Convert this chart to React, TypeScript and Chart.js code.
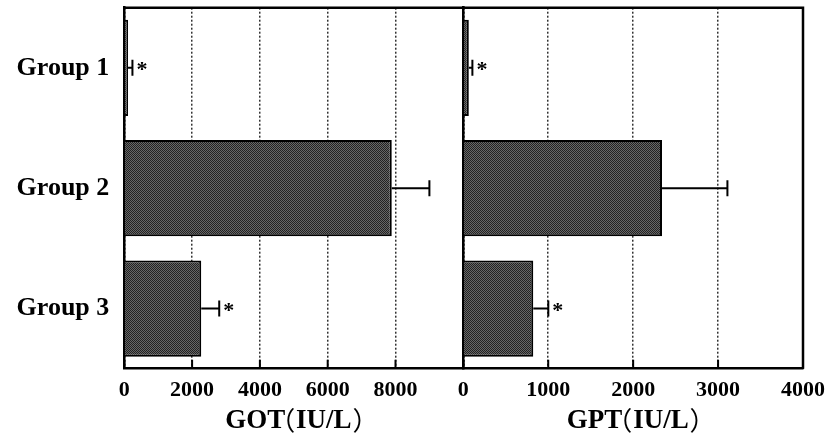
import React, { useEffect, useRef } from 'react';
import { Chart, registerables } from 'chart.js';

Chart.register(...registerables);

const categories = ['Group 1', 'Group 2', 'Group 3'];

const gotValues = [110, 7890, 2270];
const gotErrors = [130, 1110, 530];
const gotStars = [true, false, true];
const gotTickValues = [0, 2000, 4000, 6000, 8000, 10000];
const gotHiddenTicks = [10000];
const gotTitle = 'GOT（IU/L）';

const gptValues = [65, 2340, 824];
const gptErrors = [42, 770, 177];
const gptStars = [true, false, true];
const gptTickValues = [0, 1000, 2000, 3000, 4000];
const gptHiddenTicks: number[] = [];
const gptTitle = 'GPT（IU/L）';

const SERIF = "'Liberation Serif', 'Times New Roman', serif";
const CJK = "'Noto Sans CJK SC', 'Noto Sans CJK JP', sans-serif";

function makePattern(): CanvasPattern | string {
  const c = document.createElement('canvas');
  c.width = 2;
  c.height = 2;
  const g = c.getContext('2d');
  if (!g) return '#444';
  g.fillStyle = '#676767';
  g.fillRect(0, 0, 2, 2);
  g.fillStyle = '#222222';
  g.fillRect(0, 0, 1, 1);
  g.fillRect(1, 1, 1, 1);
  return g.createPattern(c, 'repeat') || '#444';
}

function drawTightText(ctx: CanvasRenderingContext2D, text: string, cx: number, y: number, size: number) {
  const latinFont = `bold ${size}px ${SERIF}`;
  const parenFont = `normal ${Math.round(size * 0.95)}px ${CJK}`;
  const chars = Array.from(text);
  const gap = size * 0.07;
  const parts: { ch: string; dx: number; w: number; font: string }[] = [];
  let total = 0;
  let run = '';
  const flush = () => {
    if (run) {
      ctx.font = latinFont;
      const w = ctx.measureText(run).width;
      parts.push({ ch: run, dx: 0, w, font: latinFont });
      total += w;
      run = '';
    }
  };
  for (const ch of chars) {
    if (ch === '（' || ch === '）') {
      flush();
      ctx.font = parenFont;
      const m = ctx.measureText(ch);
      const ink = m.actualBoundingBoxLeft + m.actualBoundingBoxRight;
      parts.push({ ch, dx: gap + m.actualBoundingBoxLeft, w: ink + 2 * gap, font: parenFont });
      total += ink + 2 * gap;
    } else {
      run += ch;
    }
  }
  flush();
  let x = cx - total / 2;
  ctx.textAlign = 'left';
  ctx.textBaseline = 'alphabetic';
  for (const p of parts) {
    ctx.font = p.font;
    ctx.fillText(p.ch, x + p.dx, p.font === parenFont ? y + size * 0.08 : y);
    x += p.w;
  }
}

const framePlugin = {
  id: 'frame',
  afterDraw(chart: any, _args: any, opts: any) {
    const { ctx, chartArea: a } = chart;
    const xs = chart.scales.x;
    ctx.save();
    ctx.strokeStyle = '#000';
    ctx.lineWidth = 2.5;
    ctx.beginPath();
    ctx.moveTo(a.left - 1.25, a.top);
    ctx.lineTo(a.right + 1.25, a.top);
    if (opts.right) {
      ctx.moveTo(a.right, a.top);
      ctx.lineTo(a.right, a.bottom);
    }
    ctx.stroke();
    // inward tick marks
    ctx.lineWidth = 2;
    ctx.beginPath();
    xs.ticks.forEach((t: any) => {
      const px = xs.getPixelForValue(t.value);
      ctx.moveTo(px, a.bottom);
      ctx.lineTo(px, a.bottom - 9);
    });
    ctx.stroke();
    // axis title
    ctx.fillStyle = '#000';
    drawTightText(ctx, opts.title, (a.left + a.right) / 2, 428, 27);
    ctx.restore();
  },
};

const errorPlugin = {
  id: 'errorbars',
  afterDatasetsDraw(chart: any) {
    const { ctx } = chart;
    const xs = chart.scales.x;
    chart.data.datasets.forEach((ds: any, di: number) => {
      const meta = chart.getDatasetMeta(di);
      meta.data.forEach((bar: any, i: number) => {
        const v = ds.data[i];
        const e = ds.errors[i];
        const xEnd = xs.getPixelForValue(v + e);
        const y = bar.y;
        ctx.save();
        ctx.strokeStyle = '#000';
        ctx.lineWidth = 2;
        ctx.beginPath();
        ctx.moveTo(bar.x, y);
        ctx.lineTo(xEnd, y);
        ctx.moveTo(xEnd, y - 8);
        ctx.lineTo(xEnd, y + 8);
        ctx.stroke();
        if (ds.stars[i]) {
          ctx.fillStyle = '#000';
          ctx.font = `bold 22px ${SERIF}`;
          ctx.textAlign = 'left';
          ctx.textBaseline = 'alphabetic';
          const m = ctx.measureText('*');
          const inkMid = (m.actualBoundingBoxAscent - m.actualBoundingBoxDescent) / 2;
          ctx.fillText('*', xEnd + 4 + m.actualBoundingBoxLeft, y - 1 + inkMid);
        }
        ctx.restore();
      });
    });
  },
};

interface PanelOpts {
  values: number[];
  errors: number[];
  stars: boolean[];
  tickValues: number[];
  hidden: number[];
  title: string;
  yWidth: number;
  showLabels: boolean;
  padRight: number;
  right: boolean;
  pattern: CanvasPattern | string;
}

function makeConfig(p: PanelOpts): any {
  const max = p.tickValues[p.tickValues.length - 1];
  return {
    type: 'bar',
    data: {
      labels: categories,
      datasets: [
        {
          data: p.values,
          errors: p.errors,
          stars: p.stars,
          backgroundColor: p.pattern,
          borderColor: '#000',
          borderWidth: 2,
          barPercentage: 0.8,
          categoryPercentage: 1.0,
        },
      ],
    },
    options: {
      indexAxis: 'y',
      responsive: false,
      maintainAspectRatio: false,
      animation: false,
      layout: { padding: { left: 0, top: 7.7, right: p.padRight, bottom: 0 } },
      plugins: {
        legend: { display: false },
        tooltip: { enabled: false },
        frame: { title: p.title, right: p.right },
      },
      scales: {
        x: {
          type: 'linear',
          min: 0,
          max,
          afterBuildTicks: (s: any) => {
            s.ticks = p.tickValues.map((v) => ({ value: v }));
          },
          afterFit: (s: any) => {
            s.height = 436 - 368.7;
            s.paddingLeft = 0;
            s.paddingRight = 0;
          },
          grid: {
            display: true,
            color: '#333',
            lineWidth: 1.5,
            drawTicks: false,
          },
          border: { display: true, color: '#000', width: 2.5, dash: [2, 2] },
          ticks: {
            color: '#000',
            padding: 8,
            maxRotation: 0,
            autoSkip: false,
            font: { family: SERIF, size: 22, weight: 'bold' },
            callback: (v: any) => (p.hidden.includes(Number(v)) ? '' : String(v)),
          },
        },
        y: {
          type: 'category',
          afterFit: (s: any) => {
            s.width = p.yWidth;
            s.paddingTop = 0;
            s.paddingBottom = 0;
          },
          grid: { display: false, drawTicks: false },
          border: { display: true, color: '#000', width: 2.5 },
          ticks: {
            display: p.showLabels,
            color: '#000',
            padding: 15,
            font: { family: SERIF, size: 26, weight: 'bold' },
          },
        },
      },
    },
    plugins: [framePlugin, errorPlugin],
  };
}

export default function App() {
  const leftRef = useRef<HTMLCanvasElement>(null);
  const rightRef = useRef<HTMLCanvasElement>(null);

  useEffect(() => {
    const pattern = makePattern();
    const c1 = new Chart(
      leftRef.current as HTMLCanvasElement,
      makeConfig({
        values: gotValues,
        errors: gotErrors,
        stars: gotStars,
        tickValues: gotTickValues,
        hidden: gotHiddenTicks,
        title: gotTitle,
        yWidth: 124.3,
        showLabels: true,
        padRight: 470 - 463.3,
        right: false,
        pattern,
      })
    );
    const c2 = new Chart(
      rightRef.current as HTMLCanvasElement,
      makeConfig({
        values: gptValues,
        errors: gptErrors,
        stars: gptStars,
        tickValues: gptTickValues,
        hidden: gptHiddenTicks,
        title: gptTitle,
        yWidth: 463.3 - 440,
        showLabels: false,
        padRight: 828 - 803,
        right: true,
        pattern,
      })
    );
    return () => {
      c1.destroy();
      c2.destroy();
    };
  }, []);

  return (
    <div style={{ position: 'absolute', left: 0, top: 0, width: 828, height: 436, background: '#fff' }}>
      <canvas ref={leftRef} width={470} height={436} style={{ position: 'absolute', left: 0, top: 0 }} />
      <canvas ref={rightRef} width={388} height={436} style={{ position: 'absolute', left: 440, top: 0 }} />
    </div>
  );
}
